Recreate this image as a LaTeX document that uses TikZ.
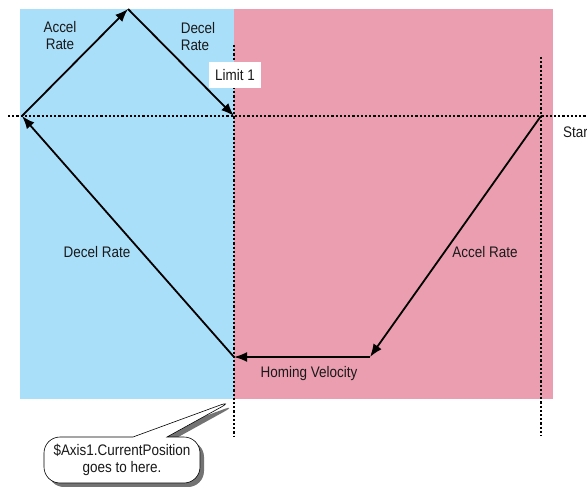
\documentclass[tikz,border=0pt]{standalone}
\usepackage{fontspec}
\setmainfont{Liberation Sans}[FakeStretch=0.88]
\usetikzlibrary{arrows.meta,shapes.callouts,shadows}
\definecolor{zoneblue}{RGB}{170,223,250}
\definecolor{zonepink}{RGB}{235,158,176}
\definecolor{ink}{RGB}{25,25,25}
\tikzset{
  dotline/.style={line width=2.2pt,dash pattern=on 2.2pt off 2pt},
  move/.style={line width=1.8pt,-{Latex[length=13pt,width=10pt]}},
  lbl/.style={font=\fontsize{15.3}{17}\selectfont,text=ink,align=center,inner sep=0pt},
}
\begin{document}
\begin{tikzpicture}[x=1pt,y=-1pt]
\useasboundingbox (0,0) rectangle (587,487);
\fill[zoneblue] (20,9) rectangle (234,399);
\fill[zonepink] (234,9) rectangle (553,399);
% dotted guide lines
\coordinate (hl) at (8,116);
\coordinate (hr) at (587,116);
\coordinate (v1t) at (234,45);
\coordinate (v1b) at (234,436);
\coordinate (v2t) at (541,57);
\coordinate (v2b) at (541,436);
\draw[dotline] (hl) -- (hr);
\draw[dotline] (v1t) -- (v1b);
\draw[dotline] (v2t) -- (v2b);
% path points
\coordinate (S) at (541,116);
\coordinate (H1) at (370,357);
\coordinate (H0) at (234,357);
\coordinate (L) at (22,116);
\coordinate (T) at (128,9);
\coordinate (Lim) at (234,116);
\draw[move] (S) -- (H1);
\draw[move] (H1) -- (H0);
\draw[move] (H0) -- (L);
\draw[move] (L) -- (T);
\draw[move] (T) -- (Lim);
% labels
\node[lbl] (accel1) at (60,36) {Accel\\Rate};
\node[lbl,align=left] (decel1) at (198,37) {Decel\\Rate};
\node[lbl,fill=white,minimum width=52pt,minimum height=26pt] (limit) at (235,75) {Limit 1};
\node[lbl,anchor=base west] (start) at (563,138) {Start};
\node[lbl] (decel2) at (97,252) {Decel Rate};
\node[lbl] (accel2) at (485,252) {Accel Rate};
\node[lbl] (homing) at (309,374) {Homing Velocity};
% callout
\coordinate (tip) at (234,400);
\node[rectangle callout,rounded corners=16pt,draw=black,line width=0.6pt,fill=white,
      drop shadow={shadow xshift=4pt,shadow yshift=-4pt,fill=black!55,opacity=1},
      minimum width=156pt,minimum height=46pt,lbl,
      callout absolute pointer={(tip)},callout pointer width=34pt] (note) at (122,460)
      {\$Axis1.CurrentPosition\\goes to here.};
\end{tikzpicture}
\end{document}
